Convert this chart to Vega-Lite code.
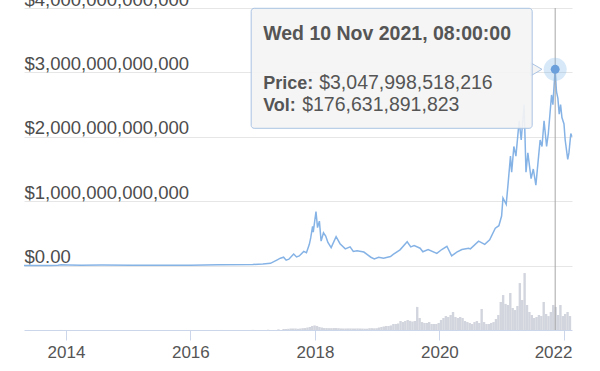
{
  "$schema": "https://vega.github.io/schema/vega-lite/v6.json",
  "width": 548,
  "height": 322,
  "autosize": {"type": "none"},
  "padding": {"left": 24, "top": 8, "right": 28, "bottom": 41},
  "background": "white",
  "config": {"view": {"stroke": null}, "font": "Liberation Sans"},
  "datasets": {
    "prices": [
      {"date": "2013-04-30", "price": 1.6e9},
      {"date": "2013-07-01", "price": 1.2e9},
      {"date": "2013-10-01", "price": 2.0e9},
      {"date": "2013-11-15", "price": 7e9},
      {"date": "2013-12-04", "price": 1.4e10},
      {"date": "2014-01-15", "price": 1.1e10},
      {"date": "2014-04-01", "price": 7e9},
      {"date": "2014-08-01", "price": 8e9},
      {"date": "2015-01-15", "price": 4e9},
      {"date": "2015-07-01", "price": 4.5e9},
      {"date": "2016-01-01", "price": 7e9},
      {"date": "2016-06-15", "price": 1.2e10},
      {"date": "2017-01-01", "price": 1.8e10},
      {"date": "2017-03-01", "price": 2.4e10},
      {"date": "2017-04-15", "price": 3.5e10},
      {"date": "2017-05-25", "price": 9e10},
      {"date": "2017-06-12", "price": 1.15e11},
      {"date": "2017-07-01", "price": 1.3e11},
      {"date": "2017-07-16", "price": 8.5e10},
      {"date": "2017-08-01", "price": 1.0e11},
      {"date": "2017-08-29", "price": 1.8e11},
      {"date": "2017-09-15", "price": 1.35e11},
      {"date": "2017-10-01", "price": 1.5e11},
      {"date": "2017-10-27", "price": 2.2e11},
      {"date": "2017-11-12", "price": 2.0e11},
      {"date": "2017-11-29", "price": 3.3e11},
      {"date": "2017-12-07", "price": 4.3e11},
      {"date": "2017-12-18", "price": 6.1e11},
      {"date": "2017-12-22", "price": 5.2e11},
      {"date": "2018-01-07", "price": 8.4e11},
      {"date": "2018-01-16", "price": 5.9e11},
      {"date": "2018-01-27", "price": 6.9e11},
      {"date": "2018-02-06", "price": 3.8e11},
      {"date": "2018-02-20", "price": 5.1e11},
      {"date": "2018-03-05", "price": 4.6e11},
      {"date": "2018-03-18", "price": 3.6e11},
      {"date": "2018-04-06", "price": 2.8e11},
      {"date": "2018-05-05", "price": 4.5e11},
      {"date": "2018-05-28", "price": 3.4e11},
      {"date": "2018-06-28", "price": 2.6e11},
      {"date": "2018-07-26", "price": 2.9e11},
      {"date": "2018-08-14", "price": 2.2e11},
      {"date": "2018-09-05", "price": 2.3e11},
      {"date": "2018-10-15", "price": 2.1e11},
      {"date": "2018-11-25", "price": 1.3e11},
      {"date": "2018-12-15", "price": 1.05e11},
      {"date": "2019-01-10", "price": 1.3e11},
      {"date": "2019-02-07", "price": 1.15e11},
      {"date": "2019-03-20", "price": 1.4e11},
      {"date": "2019-04-05", "price": 1.75e11},
      {"date": "2019-05-15", "price": 2.45e11},
      {"date": "2019-06-26", "price": 3.7e11},
      {"date": "2019-07-17", "price": 2.9e11},
      {"date": "2019-08-06", "price": 3.1e11},
      {"date": "2019-09-10", "price": 2.7e11},
      {"date": "2019-09-26", "price": 2.15e11},
      {"date": "2019-10-27", "price": 2.5e11},
      {"date": "2019-12-17", "price": 1.9e11},
      {"date": "2020-01-15", "price": 2.5e11},
      {"date": "2020-02-14", "price": 3.0e11},
      {"date": "2020-03-13", "price": 1.5e11},
      {"date": "2020-04-12", "price": 2.1e11},
      {"date": "2020-05-12", "price": 2.5e11},
      {"date": "2020-06-20", "price": 2.7e11},
      {"date": "2020-07-01", "price": 2.6e11},
      {"date": "2020-08-18", "price": 3.8e11},
      {"date": "2020-09-23", "price": 3.3e11},
      {"date": "2020-10-22", "price": 4.0e11},
      {"date": "2020-11-24", "price": 5.8e11},
      {"date": "2020-12-15", "price": 6.2e11},
      {"date": "2020-12-31", "price": 7.7e11},
      {"date": "2021-01-08", "price": 1.05e12},
      {"date": "2021-01-27", "price": 9.5e11},
      {"date": "2021-02-08", "price": 1.3e12},
      {"date": "2021-02-21", "price": 1.7e12},
      {"date": "2021-02-28", "price": 1.45e12},
      {"date": "2021-03-13", "price": 1.85e12},
      {"date": "2021-03-25", "price": 1.7e12},
      {"date": "2021-04-13", "price": 2.25e12},
      {"date": "2021-04-25", "price": 1.95e12},
      {"date": "2021-05-12", "price": 2.5e12},
      {"date": "2021-05-23", "price": 1.45e12},
      {"date": "2021-06-03", "price": 1.75e12},
      {"date": "2021-06-22", "price": 1.35e12},
      {"date": "2021-07-05", "price": 1.5e12},
      {"date": "2021-07-20", "price": 1.25e12},
      {"date": "2021-08-14", "price": 1.95e12},
      {"date": "2021-08-25", "price": 1.85e12},
      {"date": "2021-09-06", "price": 2.25e12},
      {"date": "2021-09-21", "price": 1.85e12},
      {"date": "2021-10-01", "price": 2.05e12},
      {"date": "2021-10-20", "price": 2.65e12},
      {"date": "2021-10-28", "price": 2.5e12},
      {"date": "2021-11-10", "price": 3.048e12},
      {"date": "2021-11-18", "price": 2.7e12},
      {"date": "2021-11-26", "price": 2.6e12},
      {"date": "2021-12-04", "price": 2.35e12},
      {"date": "2021-12-12", "price": 2.5e12},
      {"date": "2021-12-20", "price": 2.3e12},
      {"date": "2022-01-01", "price": 2.2e12},
      {"date": "2022-01-08", "price": 1.95e12},
      {"date": "2022-01-23", "price": 1.65e12},
      {"date": "2022-01-30", "price": 1.75e12},
      {"date": "2022-02-10", "price": 2.05e12},
      {"date": "2022-02-16", "price": 2.0e12}
    ],
    "volumes": [
      {"date": "2013-06-01", "volume": 1e8},
      {"date": "2013-12-01", "volume": 5e8},
      {"date": "2014-06-01", "volume": 2e8},
      {"date": "2015-01-01", "volume": 2e8},
      {"date": "2015-07-01", "volume": 2e8},
      {"date": "2016-01-01", "volume": 3e8},
      {"date": "2016-07-01", "volume": 4e8},
      {"date": "2017-01-01", "volume": 1e9},
      {"date": "2017-04-01", "volume": 2e9},
      {"date": "2017-06-01", "volume": 5e9},
      {"date": "2017-07-01", "volume": 7.7e9},
      {"date": "2017-07-15", "volume": 7.7e9},
      {"date": "2017-07-29", "volume": 9.2e9},
      {"date": "2017-08-12", "volume": 1.15e10},
      {"date": "2017-08-26", "volume": 1.15e10},
      {"date": "2017-09-09", "volume": 1.15e10},
      {"date": "2017-09-23", "volume": 9.2e9},
      {"date": "2017-10-07", "volume": 1.15e10},
      {"date": "2017-10-21", "volume": 1.4e10},
      {"date": "2017-11-04", "volume": 1.5e10},
      {"date": "2017-11-18", "volume": 1.9e10},
      {"date": "2017-12-02", "volume": 2.3e10},
      {"date": "2017-12-16", "volume": 3.1e10},
      {"date": "2017-12-30", "volume": 3.5e10},
      {"date": "2018-01-13", "volume": 3.1e10},
      {"date": "2018-01-27", "volume": 2.3e10},
      {"date": "2018-02-10", "volume": 1.9e10},
      {"date": "2018-02-24", "volume": 1.5e10},
      {"date": "2018-03-10", "volume": 1.5e10},
      {"date": "2018-03-24", "volume": 1.4e10},
      {"date": "2018-04-07", "volume": 1.4e10},
      {"date": "2018-04-21", "volume": 1.5e10},
      {"date": "2018-05-05", "volume": 1.5e10},
      {"date": "2018-05-19", "volume": 1.4e10},
      {"date": "2018-06-02", "volume": 1.2e10},
      {"date": "2018-06-16", "volume": 1.15e10},
      {"date": "2018-06-30", "volume": 1.15e10},
      {"date": "2018-07-14", "volume": 1.2e10},
      {"date": "2018-07-28", "volume": 1.2e10},
      {"date": "2018-08-11", "volume": 1.15e10},
      {"date": "2018-08-25", "volume": 1.15e10},
      {"date": "2018-09-08", "volume": 1.2e10},
      {"date": "2018-09-22", "volume": 1.15e10},
      {"date": "2018-10-06", "volume": 1.1e10},
      {"date": "2018-10-20", "volume": 1.0e10},
      {"date": "2018-11-03", "volume": 1.0e10},
      {"date": "2018-11-17", "volume": 1.4e10},
      {"date": "2018-12-01", "volume": 1.4e10},
      {"date": "2018-12-15", "volume": 1.3e10},
      {"date": "2018-12-29", "volume": 1.4e10},
      {"date": "2019-01-12", "volume": 1.9e10},
      {"date": "2019-01-26", "volume": 2.3e10},
      {"date": "2019-02-09", "volume": 2.7e10},
      {"date": "2019-02-23", "volume": 3.1e10},
      {"date": "2019-03-09", "volume": 3.1e10},
      {"date": "2019-03-23", "volume": 3.5e10},
      {"date": "2019-04-06", "volume": 4.6e10},
      {"date": "2019-04-20", "volume": 4.6e10},
      {"date": "2019-05-04", "volume": 5.0e10},
      {"date": "2019-05-18", "volume": 6.9e10},
      {"date": "2019-06-01", "volume": 6.1e10},
      {"date": "2019-06-15", "volume": 6.9e10},
      {"date": "2019-06-29", "volume": 7.7e10},
      {"date": "2019-07-13", "volume": 7.0e10},
      {"date": "2019-07-27", "volume": 6.5e10},
      {"date": "2019-08-10", "volume": 6.9e10},
      {"date": "2019-08-24", "volume": 1.77e11},
      {"date": "2019-09-07", "volume": 9.2e10},
      {"date": "2019-09-21", "volume": 6.1e10},
      {"date": "2019-10-05", "volume": 5.4e10},
      {"date": "2019-10-19", "volume": 5.4e10},
      {"date": "2019-11-02", "volume": 6.1e10},
      {"date": "2019-11-16", "volume": 4.6e10},
      {"date": "2019-11-30", "volume": 4.6e10},
      {"date": "2019-12-14", "volume": 4.6e10},
      {"date": "2019-12-28", "volume": 5.4e10},
      {"date": "2020-01-11", "volume": 7.7e10},
      {"date": "2020-01-25", "volume": 9.2e10},
      {"date": "2020-02-08", "volume": 1.07e11},
      {"date": "2020-02-22", "volume": 1.0e11},
      {"date": "2020-03-07", "volume": 1.15e11},
      {"date": "2020-03-21", "volume": 1.38e11},
      {"date": "2020-04-04", "volume": 1.0e11},
      {"date": "2020-04-18", "volume": 9.2e10},
      {"date": "2020-05-02", "volume": 1.0e11},
      {"date": "2020-05-16", "volume": 9.2e10},
      {"date": "2020-05-30", "volume": 6.9e10},
      {"date": "2020-06-13", "volume": 6.1e10},
      {"date": "2020-06-27", "volume": 5.4e10},
      {"date": "2020-07-11", "volume": 4.6e10},
      {"date": "2020-07-25", "volume": 6.1e10},
      {"date": "2020-08-08", "volume": 6.9e10},
      {"date": "2020-08-22", "volume": 5.4e10},
      {"date": "2020-09-05", "volume": 1.61e11},
      {"date": "2020-09-19", "volume": 6.1e10},
      {"date": "2020-10-03", "volume": 4.6e10},
      {"date": "2020-10-17", "volume": 4.6e10},
      {"date": "2020-10-31", "volume": 5.4e10},
      {"date": "2020-11-14", "volume": 6.1e10},
      {"date": "2020-11-28", "volume": 8.4e10},
      {"date": "2020-12-12", "volume": 1.15e11},
      {"date": "2020-12-26", "volume": 2.15e11},
      {"date": "2021-01-09", "volume": 2.68e11},
      {"date": "2021-01-23", "volume": 2.0e11},
      {"date": "2021-02-06", "volume": 1.92e11},
      {"date": "2021-02-20", "volume": 2.84e11},
      {"date": "2021-03-06", "volume": 1.69e11},
      {"date": "2021-03-20", "volume": 1.53e11},
      {"date": "2021-04-03", "volume": 1.84e11},
      {"date": "2021-04-17", "volume": 3.6e11},
      {"date": "2021-05-01", "volume": 2.3e11},
      {"date": "2021-05-15", "volume": 4.37e11},
      {"date": "2021-05-29", "volume": 1.92e11},
      {"date": "2021-06-12", "volume": 1.38e11},
      {"date": "2021-06-26", "volume": 1.15e11},
      {"date": "2021-07-10", "volume": 9.2e10},
      {"date": "2021-07-24", "volume": 1.0e11},
      {"date": "2021-08-07", "volume": 1.15e11},
      {"date": "2021-08-21", "volume": 1.07e11},
      {"date": "2021-09-04", "volume": 2.15e11},
      {"date": "2021-09-18", "volume": 1.23e11},
      {"date": "2021-10-02", "volume": 1.07e11},
      {"date": "2021-10-16", "volume": 1.38e11},
      {"date": "2021-10-30", "volume": 1.92e11},
      {"date": "2021-11-13", "volume": 1.77e11},
      {"date": "2021-11-27", "volume": 1.15e11},
      {"date": "2021-12-11", "volume": 1.92e11},
      {"date": "2021-12-25", "volume": 1.07e11},
      {"date": "2022-01-08", "volume": 1.23e11},
      {"date": "2022-01-22", "volume": 1.38e11},
      {"date": "2022-02-05", "volume": 1.07e11}
    ],
    "hover": [
      {"date": "2021-11-10T08:00:00Z", "price": 3047998518216, "vol": 176631891823}
    ]
  },
  "layer": [
    {
      "data": {"name": "volumes"},
      "mark": {"type": "bar", "width": 2.4, "color": "#d2d5dd"},
      "encoding": {
        "x": {
          "field": "date",
          "type": "temporal",
          "title": null,
          "scale": {"type": "utc", "domain": [1367280000000, 1645056000000], "padding": 0},
          "axis": {
            "values": [1388534400000, 1451606400000, 1514764800000, 1577836800000, 1640995200000],
            "format": "%Y",
            "formatType": "utc",
            "grid": false,
            "domainColor": "#ccd6eb",
            "tickColor": "#ccd6eb",
            "tickSize": 10,
            "labelFontSize": 17,
            "labelColor": "#555555",
            "labelPadding": 4,
            "labelFlush": 10,
            "labelFlushOffset": 8,
            "labelOverlap": false,
            "title": null
          }
        },
        "y": {
          "field": "volume",
          "type": "quantitative",
          "scale": {"domain": [0, 2.47e12], "nice": false},
          "axis": null
        }
      }
    },
    {
      "layer": [
        {
          "data": {"name": "prices"},
          "mark": {"type": "line", "color": "#86b3e6", "strokeWidth": 1.5},
          "encoding": {
            "x": {"field": "date", "type": "temporal", "title": null},
            "y": {
              "field": "price",
              "type": "quantitative",
              "title": null,
              "scale": {"domain": [-1e12, 4e12], "nice": false, "zero": false},
              "axis": {
                "orient": "left",
                "values": [0, 1e12, 2e12, 3e12, 4e12],
                "labelExpr": "datum.value == 0 ? '$0.00' : '$' + format(datum.value, ',.0f')",
                "grid": true,
                "gridColor": "#e6e6e6",
                "domain": false,
                "ticks": false,
                "tickSize": 0,
                "labelAlign": "left",
                "labelBaseline": "alphabetic",
                "labelPadding": 0,
                "labelOffset": -3,
                "labelFontSize": 18.5,
                "labelColor": "#4d4d4d",
                "labelFlush": false,
                "labelOverlap": false,
                "labelBound": false,
                "title": null
              }
            }
          }
        },
        {
          "data": {"name": "hover"},
          "mark": {"type": "rule", "color": "#a6a6a6", "strokeWidth": 1},
          "encoding": {"x": {"field": "date", "type": "temporal", "title": null}}
        },
        {
          "data": {"name": "hover"},
          "mark": {"type": "point", "shape": "circle", "filled": true, "color": "#7cb5ec", "opacity": 0.3, "size": 530},
          "encoding": {
            "x": {"field": "date", "type": "temporal", "title": null},
            "y": {"field": "price", "type": "quantitative", "title": null}
          }
        },
        {
          "data": {"name": "hover"},
          "mark": {"type": "point", "shape": "circle", "filled": true, "color": "#6b9fdc", "opacity": 1, "size": 80},
          "encoding": {
            "x": {"field": "date", "type": "temporal", "title": null},
            "y": {"field": "price", "type": "quantitative", "title": null}
          }
        },
        {
          "data": {"name": "hover"},
          "mark": {"type": "point", "shape": "triangle-right", "filled": true, "fill": "#f4f4f4", "stroke": "#a9c3e3", "strokeWidth": 1, "opacity": 1, "size": 180, "xOffset": -19},
          "encoding": {
            "x": {"field": "date", "type": "temporal", "title": null},
            "y": {"field": "price", "type": "quantitative", "title": null}
          }
        },
        {
          "data": {"name": "hover"},
          "mark": {"type": "rect", "fill": "#f4f4f4", "fillOpacity": 0.92, "stroke": "#a9c3e3", "strokeWidth": 1, "cornerRadius": 3, "xOffset": -304, "x2Offset": -23, "yOffset": -61, "y2Offset": 59},
          "encoding": {
            "x": {"field": "date", "type": "temporal", "title": null},
            "x2": {"field": "date"},
            "y": {"field": "price", "type": "quantitative", "title": null},
            "y2": {"field": "price"}
          }
        },
        {
          "data": {"name": "hover"},
          "transform": [{"calculate": "utcFormat(toDate(datum.date), '%a %d %b %Y, %H:%M:%S')", "as": "label"}],
          "mark": {"type": "text", "align": "left", "baseline": "alphabetic", "dx": -292, "dy": -29, "fontSize": 19.5, "fontWeight": "bold", "color": "#555555"},
          "encoding": {
            "x": {"field": "date", "type": "temporal", "title": null},
            "y": {"field": "price", "type": "quantitative", "title": null},
            "text": {"field": "label"}
          }
        },
        {
          "data": {"name": "hover"},
          "mark": {"type": "text", "text": "Price:", "align": "left", "baseline": "alphabetic", "dx": -292, "dy": 20, "fontSize": 18, "fontWeight": "bold", "color": "#555555"},
          "encoding": {
            "x": {"field": "date", "type": "temporal", "title": null},
            "y": {"field": "price", "type": "quantitative", "title": null}
          }
        },
        {
          "data": {"name": "hover"},
          "mark": {"type": "text", "text": "Vol:", "align": "left", "baseline": "alphabetic", "dx": -292, "dy": 42, "fontSize": 18, "fontWeight": "bold", "color": "#555555"},
          "encoding": {
            "x": {"field": "date", "type": "temporal", "title": null},
            "y": {"field": "price", "type": "quantitative", "title": null}
          }
        },
        {
          "data": {"name": "hover"},
          "mark": {"type": "text", "align": "left", "baseline": "alphabetic", "dx": -236, "dy": 20, "fontSize": 19.5, "color": "#555555"},
          "encoding": {
            "x": {"field": "date", "type": "temporal", "title": null},
            "y": {"field": "price", "type": "quantitative", "title": null},
            "text": {"field": "price", "type": "quantitative", "format": "$,d"}
          }
        },
        {
          "data": {"name": "hover"},
          "mark": {"type": "text", "align": "left", "baseline": "alphabetic", "dx": -253, "dy": 42, "fontSize": 19.5, "color": "#555555"},
          "encoding": {
            "x": {"field": "date", "type": "temporal", "title": null},
            "y": {"field": "price", "type": "quantitative", "title": null},
            "text": {"field": "vol", "type": "quantitative", "format": "$,d"}
          }
        }
      ]
    }
  ],
  "resolve": {"scale": {"y": "independent"}, "axis": {"y": "independent"}}
}
